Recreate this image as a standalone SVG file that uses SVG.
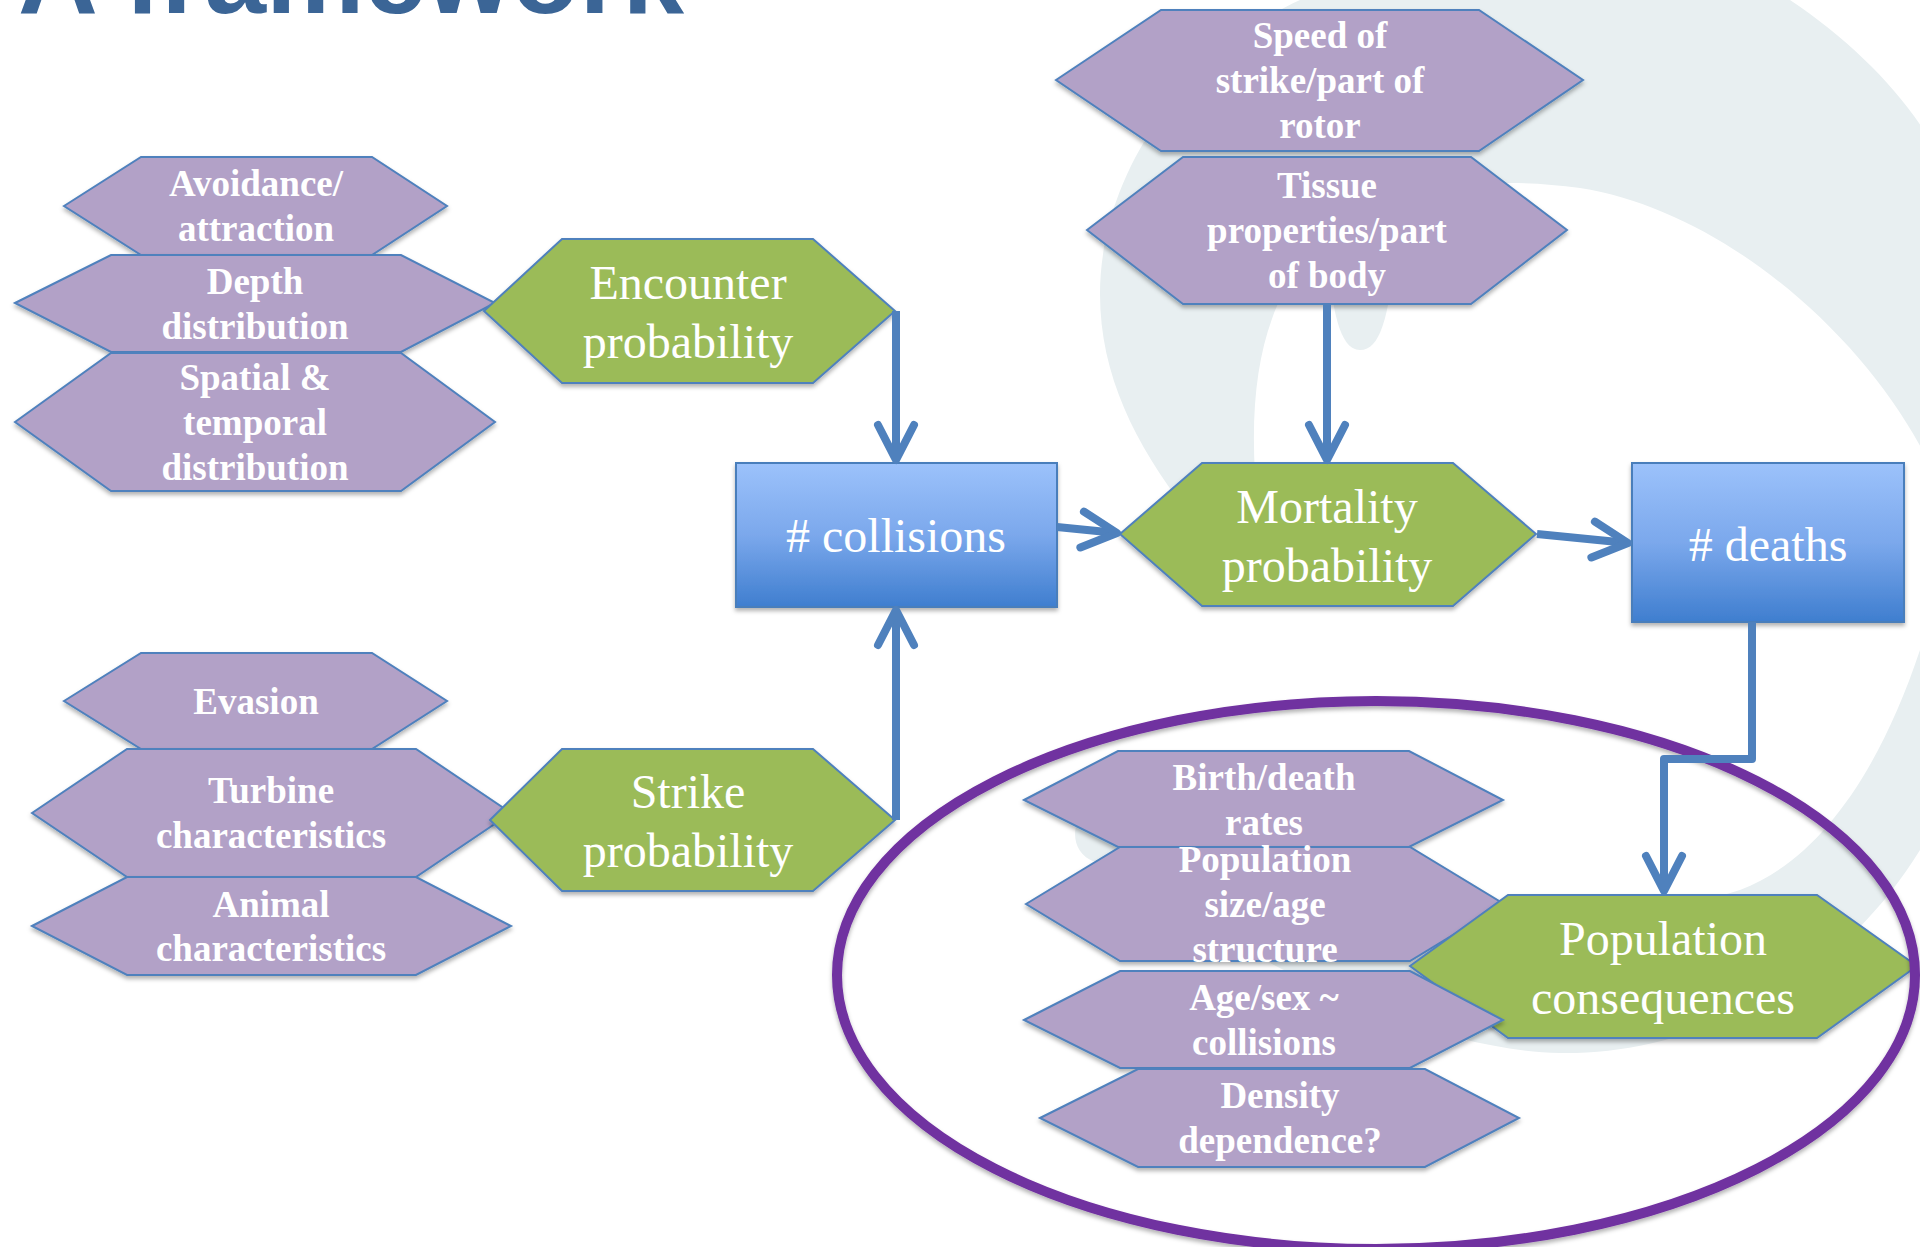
<svg xmlns="http://www.w3.org/2000/svg" width="1920" height="1247" viewBox="0 0 1920 1247">
  <defs>
    <linearGradient id="boxGrad" x1="0" y1="0" x2="0" y2="1">
      <stop offset="0" stop-color="#9cc2fb"/>
      <stop offset="0.5" stop-color="#7ba8ec"/>
      <stop offset="1" stop-color="#3f7ecf"/>
    </linearGradient>
    <filter id="shadow" x="-10%" y="-15%" width="120%" height="140%">
      <feDropShadow dx="0" dy="3" stdDeviation="2" flood-color="#000" flood-opacity="0.3"/>
    </filter>
    <marker id="arrow" markerUnits="userSpaceOnUse" viewBox="-45 -25 50 50" markerWidth="50" markerHeight="50" refX="0" refY="0" orient="auto" overflow="visible">
      <path d="M -35,-18 L 0,0 L -35,18" fill="none" stroke="#4f81bd" stroke-width="8" stroke-linecap="round" stroke-linejoin="round"/>
    </marker>
    <style>
      .hp { fill: #b2a1c7; stroke: #4f81bd; stroke-width: 2; filter: url(#shadow); }
      .hg { fill: #9bbb59; stroke: #4f81bd; stroke-width: 2; filter: url(#shadow); }
      .box { fill: url(#boxGrad); stroke: #4a7ebb; stroke-width: 2; filter: url(#shadow); }
      .tp { font-family: "Liberation Serif", "Times New Roman", serif; font-weight: bold; font-size: 37px; fill: #ffffff; text-anchor: middle; }
      .tg { font-family: "Liberation Serif", "Times New Roman", serif; font-size: 48px; fill: #ffffff; text-anchor: middle; }
      .conn { fill: none; stroke: #4f81bd; stroke-width: 8; stroke-linejoin: round; marker-end: url(#arrow); }
      .swirl { fill: #e8eff1; }
    </style>
  </defs>

  <rect width="1920" height="1247" fill="#ffffff"/>

  <!-- watermark swirl in the background -->
  <g id="watermark">
    <path class="swirl" d="M 1215,545 C 1150,470 1100,390 1100,294 C 1100,170 1190,50 1300,0 C 1450,-80 1700,-60 1790,0 C 1850,40 1900,90 1930,140 L 1960,140 L 1960,480 L 1925,455 C 1860,330 1720,210 1580,188 C 1450,170 1340,200 1290,280 C 1255,340 1245,420 1262,545 Z"/>
    <path class="swirl" d="M 1325,225 C 1330,290 1335,350 1360,350 C 1385,350 1392,300 1400,200 Z"/>
    <path class="swirl" d="M 1920,650 C 1880,770 1820,860 1740,890 C 1560,950 1300,880 1110,808 C 1075,795 1060,850 1095,862 C 1250,960 1420,1050 1560,1053 C 1700,1055 1840,980 1920,850 Z"/>
  </g>

  <!-- title, cropped at the top edge -->
  <text x="18" y="13" font-family="Liberation Sans, Arial, sans-serif" font-weight="bold" font-size="110" textLength="666" lengthAdjust="spacingAndGlyphs" fill="#3b6596">A framework</text>

  <!-- encounter factors -->
  <g id="avoidance">
    <polygon class="hp" points="64,206 141,157 372,157 447,206 372,255 141,255"/>
    <text class="tp"><tspan x="256" y="196">Avoidance/</tspan><tspan x="256" y="241">attraction</tspan></text>
  </g>
  <g id="depth">
    <polygon class="hp" points="15,303 111,255 401,255 495,303 401,352 111,352"/>
    <text class="tp"><tspan x="255" y="294">Depth</tspan><tspan x="255" y="339">distribution</tspan></text>
  </g>
  <g id="spatial">
    <polygon class="hp" points="15,422 111,353 401,353 495,422 401,491 111,491"/>
    <text class="tp"><tspan x="255" y="390">Spatial &amp;</tspan><tspan x="255" y="435">temporal</tspan><tspan x="255" y="480">distribution</tspan></text>
  </g>
  <g id="encounter">
    <polygon class="hg" points="484,311 562,239 813,239 895,311 813,383 562,383"/>
    <text class="tg"><tspan x="688" y="299">Encounter</tspan><tspan x="688" y="358">probability</tspan></text>
  </g>

  <!-- strike factors -->
  <g id="evasion">
    <polygon class="hp" points="64,701 141,653 372,653 447,701 372,749 141,749"/>
    <text class="tp"><tspan x="256" y="714">Evasion</tspan></text>
  </g>
  <g id="turbine">
    <polygon class="hp" points="32,813 127,749 416,749 511,813 416,877 127,877"/>
    <text class="tp"><tspan x="271" y="803">Turbine</tspan><tspan x="271" y="848">characteristics</tspan></text>
  </g>
  <g id="animal">
    <polygon class="hp" points="32,926 127,877 416,877 511,926 416,975 127,975"/>
    <text class="tp"><tspan x="271" y="917">Animal</tspan><tspan x="271" y="961">characteristics</tspan></text>
  </g>
  <g id="strike">
    <polygon class="hg" points="490,820 562,749 813,749 895,820 813,891 562,891"/>
    <text class="tg"><tspan x="688" y="808">Strike</tspan><tspan x="688" y="867">probability</tspan></text>
  </g>

  <!-- mortality factors -->
  <g id="speed">
    <polygon class="hp" points="1056,80 1161,10 1479,10 1583,80 1479,151 1161,151"/>
    <text class="tp"><tspan x="1320" y="48">Speed of</tspan><tspan x="1320" y="93">strike/part of</tspan><tspan x="1320" y="138">rotor</tspan></text>
  </g>
  <g id="tissue">
    <polygon class="hp" points="1087,230 1183,157 1471,157 1567,230 1471,304 1183,304"/>
    <text class="tp"><tspan x="1327" y="198">Tissue</tspan><tspan x="1327" y="243">properties/part</tspan><tspan x="1327" y="288">of body</tspan></text>
  </g>

  <g id="collisions">
    <rect class="box" x="736" y="463" width="321" height="144"/>
    <text class="tg" x="896" y="552"># collisions</text>
  </g>
  <g id="mortality">
    <polygon class="hg" points="1120,534 1202,463 1453,463 1536,534 1453,606 1202,606"/>
    <text class="tg"><tspan x="1327" y="523">Mortality</tspan><tspan x="1327" y="582">probability</tspan></text>
  </g>
  <g id="deaths">
    <rect class="box" x="1632" y="463" width="272" height="159"/>
    <text class="tg" x="1768" y="561"># deaths</text>
  </g>

  <!-- population factors -->
  <g id="birth-death">
    <polygon class="hp" points="1024,800 1118,751 1409,751 1503,800 1409,847 1118,847"/>
    <text class="tp"><tspan x="1264" y="790">Birth/death</tspan><tspan x="1264" y="835">rates</tspan></text>
  </g>
  <g id="population-size">
    <polygon class="hp" points="1026,904 1120,847 1410,847 1504,904 1410,961 1120,961"/>
    <text class="tp"><tspan x="1265" y="872">Population</tspan><tspan x="1265" y="917">size/age</tspan><tspan x="1265" y="962">structure</tspan></text>
  </g>
  <g id="population-consequences">
    <polygon class="hg" points="1410,966 1508,895 1817,895 1917,966 1817,1038 1508,1038"/>
    <text class="tg"><tspan x="1663" y="955">Population</tspan><tspan x="1663" y="1014">consequences</tspan></text>
  </g>
  <g id="age-sex">
    <polygon class="hp" points="1024,1020 1120,971 1410,971 1503,1020 1410,1068 1120,1068"/>
    <text class="tp"><tspan x="1264" y="1010">Age/sex ~</tspan><tspan x="1264" y="1055">collisions</tspan></text>
  </g>
  <g id="density">
    <polygon class="hp" points="1040,1118 1138,1069 1425,1069 1519,1118 1425,1167 1138,1167"/>
    <text class="tp"><tspan x="1280" y="1108">Density</tspan><tspan x="1280" y="1153">dependence?</tspan></text>
  </g>

  <!-- outline grouping the population-level factors -->
  <g id="population-outline">
    <ellipse cx="1376" cy="975" rx="539" ry="274" fill="none" stroke="#7030a0" stroke-width="10" filter="url(#shadow)"/>
  </g>

  <!-- connectors -->
  <g id="connectors">
    <path class="conn" d="M 896,311 L 896,460"/>
    <path class="conn" d="M 896,820 L 896,610"/>
    <path class="conn" d="M 1327,304 L 1327,460"/>
    <path class="conn" d="M 1057,527 L 1117,533"/>
    <path class="conn" d="M 1537,534 L 1628,543"/>
    <path class="conn" d="M 1752,622 L 1752,759 L 1664,759 L 1664,891"/>
  </g>
</svg>
